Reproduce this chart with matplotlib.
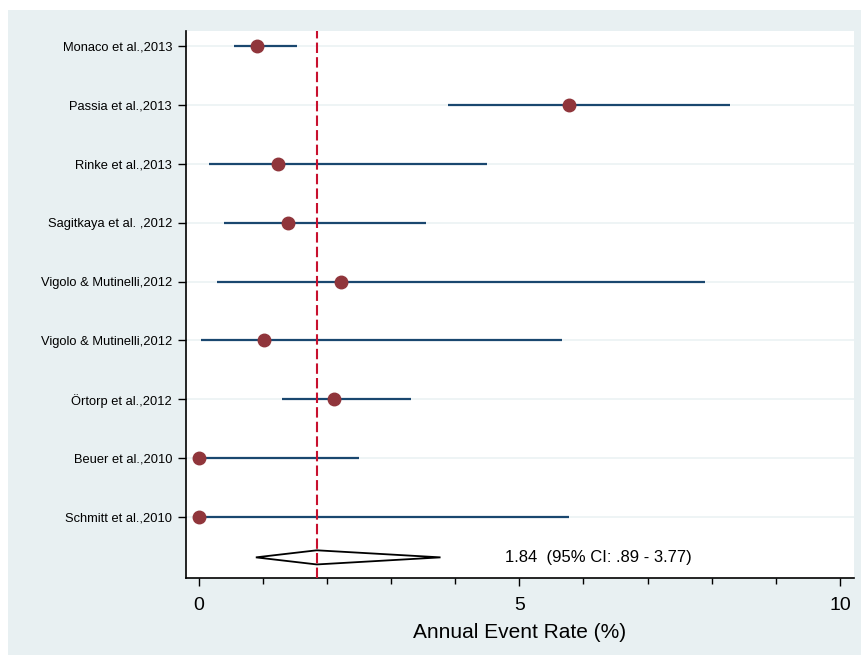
import matplotlib.pyplot as plt
from matplotlib.patches import Polygon, Rectangle

plt.rcParams['font.family'] = ['Liberation Sans', 'DejaVu Sans']

# studies, point estimates and 95% CI (annual event rate, %)
studies = ['Monaco et al.,2013', 'Passia et al.,2013', 'Rinke et al.,2013',
           'Sagitkaya et al. ,2012', 'Vigolo & Mutinelli,2012', 'Vigolo & Mutinelli,2012',
           'Örtorp et al.,2012', 'Beuer et al.,2010', 'Schmitt et al.,2010']
rate = [0.91, 5.78, 1.23, 1.39, 2.22, 1.02, 2.11, 0.0, 0.0]
ci_low = [0.55, 3.89, 0.16, 0.39, 0.28, 0.03, 1.30, 0.0, 0.0]
ci_high = [1.53, 8.28, 4.50, 3.55, 7.89, 5.67, 3.31, 2.50, 5.78]

pooled = 1.84
pooled_low = 0.89
pooled_high = 3.77

bg = '#e8f0f2'
navy = '#1a476f'
maroon = '#90353b'

fig = plt.figure(figsize=(8.61, 6.55), dpi=100)
fig.patch.set_facecolor('white')
# light panel behind the graph (Stata style)
fig.patches.append(Rectangle((8 / 861, 0), 1, 1 - 10 / 655, transform=fig.transFigure,
                             facecolor=bg, edgecolor='none', zorder=-10))

ax = fig.add_axes([186 / 861, 77 / 655, 668 / 861, 547 / 655])
ax.set_facecolor('white')

ypos = list(range(len(studies)))
for y in ypos:
    ax.axhline(y, color='#edf3f5', lw=1.3, zorder=0)

ax.hlines(ypos, ci_low, ci_high, color=navy, lw=1.6, zorder=2)
ax.plot(rate, ypos, 'o', color=maroon, ms=9, zorder=3)

# pooled estimate diamond
yd = 8.68
h = 0.12
diamond = Polygon([[pooled_low, yd], [pooled, yd - h], [pooled_high, yd], [pooled, yd + h]],
                  closed=True, fill=False, edgecolor='black', lw=1.3, zorder=3)
ax.add_patch(diamond)
ax.axvline(pooled, color='#c8102e', lw=1.5, ls=(0, (5, 2)), zorder=4)

ax.text(4.78, yd, '1.84  (95% CI: .89 - 3.77)', fontsize=12, va='center', ha='left')

ax.set_xlim(-0.2, 10.22)
ax.set_ylim(9.03, -0.25)
ax.set_yticks(ypos)
ax.set_yticklabels(studies, fontsize=9.3)
ax.set_xticks([0, 5, 10])
ax.set_xticks([1, 2, 3, 4, 6, 7, 8, 9], minor=True)
ax.tick_params(axis='x', labelsize=14, length=6, width=1, pad=8)
ax.tick_params(axis='x', which='minor', length=4, width=1)
ax.tick_params(axis='y', length=6, width=1, pad=4)
ax.set_xlabel('Annual Event Rate (%)', fontsize=15, labelpad=6)

ax.spines['top'].set_visible(False)
ax.spines['right'].set_visible(False)
ax.spines['left'].set_linewidth(1.2)
ax.spines['bottom'].set_linewidth(1.2)

fig.savefig('out.png', dpi=100)
